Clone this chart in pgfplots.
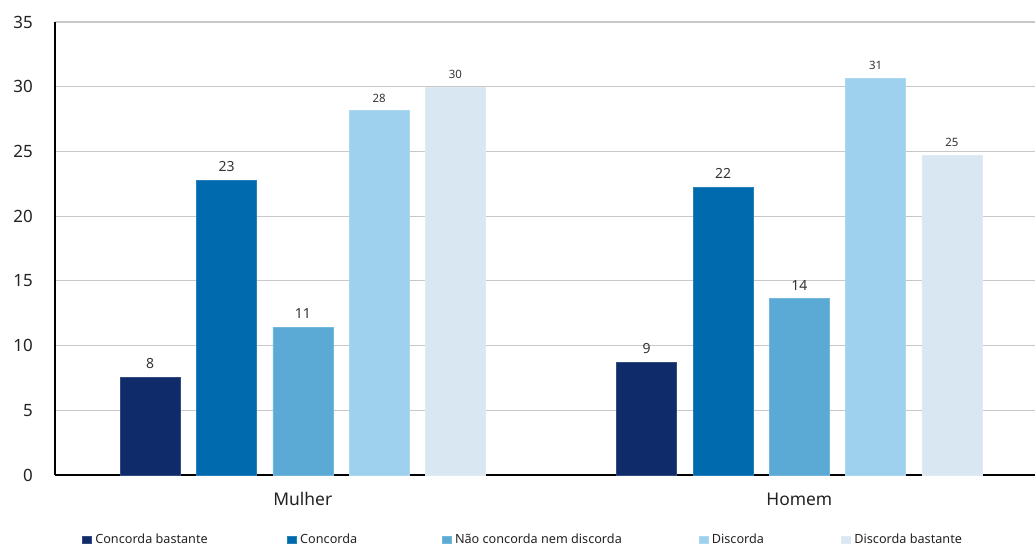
\documentclass[border=0pt]{standalone}
\usepackage{pgfplots}
\pgfplotsset{compat=1.18}
\usepackage{fontspec}
\setmainfont{Noto Sans}
\definecolor{c1}{HTML}{0F2B69}
\definecolor{c2}{HTML}{006AAE}
\definecolor{c3}{HTML}{5BAAD6}
\definecolor{c4}{HTML}{9DD1EE}
\definecolor{c5}{HTML}{D8E7F2}
\definecolor{gridc}{RGB}{200,200,200}
\definecolor{txt}{HTML}{222222}
\definecolor{lbl}{HTML}{333333}
\pgfplotsset{
  mybar/.style={fill=#1, draw=#1!85!white, line width=0.5bp, bar shift=0pt, bar width=60,
    legend image code/.code={\fill[fill=#1] (0bp,-3.7bp) rectangle (8.8bp,3.7bp); \path (12.5bp,0bp);}},
}
\begin{document}
\begin{tikzpicture}
\begin{axis}[
  scale only axis,
  width=980bp, height=453bp,
  xmin=55, xmax=1035, ymin=0, ymax=35,
  ybar,
  axis x line=bottom, axis y line=left,
  axis line style={-, black, line width=1.3bp},
  major tick length=0pt,
  ytick={0,5,...,35},
  xtick={302.8,799.3},
  xticklabels={Mulher,Homem},
  ymajorgrids,
  major grid style={gridc, line width=1.2bp},
  /pgf/number format/assume math mode=true,
  yticklabel style={font=\fontsize{17}{20}\selectfont, text=txt, anchor=east, inner sep=0pt, xshift=-22bp},
  xticklabel style={font=\fontsize{17.5}{20}\selectfont, text=txt, anchor=base, inner sep=0pt, yshift=-30bp},
  point meta=y,
  nodes near coords={\pgfmathprintnumber[fixed, precision=0, assume math mode=true]{\pgfplotspointmeta}},
  every node near coord/.append style={anchor=base, inner sep=0pt, yshift=8.5bp, text=lbl, font=\fontsize{14}{16}\selectfont},
  legend columns=5,
  legend style={draw=none, fill=none, inner sep=0pt, outer sep=0pt,
    at={(0.02786,-0.1428)}, anchor=west,
    font=\fontsize{12.7}{15}\selectfont, text=txt,
    nodes={inner sep=0pt},
    /tikz/column sep=0pt},
  legend cell align=left,
]
\addplot[mybar=c1] coordinates {(150.2,7.57) (646.7,8.73)};
\addlegendentry{\makebox[191.9bp][l]{Concorda bastante}}
\addplot[mybar=c2] coordinates {(226.5,22.79) (723.0,22.25)};
\addlegendentry{\makebox[141.8bp][l]{Concorda}}
\addplot[mybar=c3] coordinates {(302.8,11.43) (799.3,13.62)};
\addlegendentry{\makebox[243.9bp][l]{Não concorda nem discorda}}
\addplot[mybar=c4, every node near coord/.append style={font=\fontsize{11.5}{13}\selectfont}] coordinates {(379.1,28.15) (875.6,30.65)};
\addlegendentry{\makebox[129.5bp][l]{Discorda}}
\addplot[mybar=c5, every node near coord/.append style={font=\fontsize{11.5}{13}\selectfont}] coordinates {(455.4,29.95) (951.9,24.72)};
\addlegendentry{Discorda bastante}
\end{axis}
\pgfresetboundingbox
\path ([xshift=-55bp,yshift=-71bp]current axis.south west) rectangle ([yshift=22bp]current axis.north east);
\end{tikzpicture}
\end{document}
